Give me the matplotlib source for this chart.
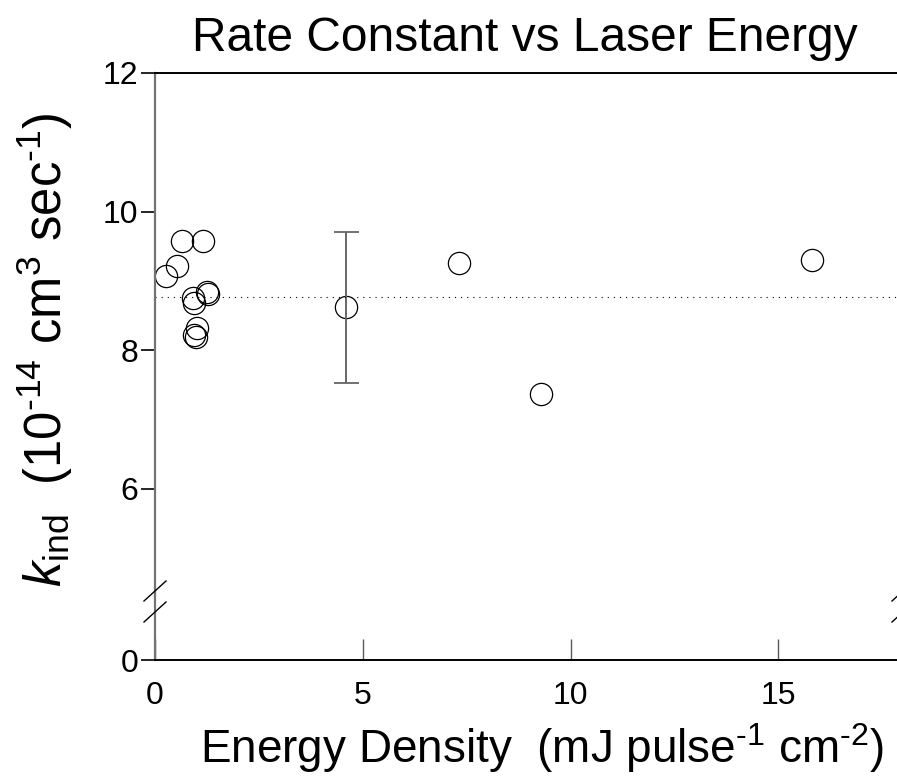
import numpy as np
import matplotlib
matplotlib.use('Agg')
import matplotlib.pyplot as plt
from matplotlib.lines import Line2D

plt.rcParams['font.family'] = ['Liberation Sans', 'DejaVu Sans']
plt.rcParams['mathtext.fontset'] = 'custom'
plt.rcParams['mathtext.rm'] = 'Liberation Sans'
plt.rcParams['mathtext.it'] = 'Liberation Sans:italic'

# data
energy = [0.27, 0.52, 0.64, 1.16, 0.92, 0.94, 1.24, 1.27, 1.02, 0.95, 0.98,
          4.60, 7.31, 9.30, 15.81]
k_ind = [9.07, 9.22, 9.57, 9.58, 8.75, 8.68, 8.84, 8.81, 8.32, 8.21, 8.19,
         8.62, 9.25, 7.37, 9.30]
err_x = [4.60]
err_y = [8.62]
err_lo = [1.10]
err_hi = [1.09]
mean_k = 8.77

xticks = [0, 5, 10, 15]
yticks_top = [6, 8, 10, 12]
yticks_bot = [0]

W, H = 897, 778
fig = plt.figure(figsize=(W / 100, H / 100), dpi=100)

left, right = 155 / W, 903 / W
y_top, y_split, y_bot = 73, 596, 660
ax = fig.add_axes([left, 1 - y_split / H, right - left, (y_split - y_top) / H])
axb = fig.add_axes([left, 1 - y_bot / H, right - left, (y_bot - y_split) / H], sharex=ax)

ax.set_xlim(0, 18)
ax.set_ylim(12 - (y_split - y_top) / 69.25, 12)
axb.set_ylim(0, 1)

# points
ax.plot(energy, k_ind, 'o', ms=16, mfc='none', mec='black', mew=0.9, clip_on=False)
eb = ax.errorbar(err_x, err_y, yerr=[err_lo, err_hi], fmt='none', ecolor='0.4',
                 elinewidth=1.4, capsize=9, capthick=1.3)
for cap in eb[1]:
    cap.set_color('black')
ax.axhline(mean_k, color='black', lw=0.8, linestyle=(0, (1, 4.5)))

# spines
for a in (ax, axb):
    a.spines['right'].set_visible(False)
    a.spines['left'].set_color('0.45')
    a.spines['left'].set_linewidth(1.6)
ax.spines['bottom'].set_visible(False)
axb.spines['top'].set_visible(False)
ax.spines['top'].set_linewidth(1.4)
axb.spines['bottom'].set_linewidth(1.4)

ax.set_yticks(yticks_top)
axb.set_yticks(yticks_bot)
axb.set_xticks(xticks)
ax.tick_params(axis='x', bottom=False, labelbottom=False)
for a in (ax, axb):
    a.tick_params(axis='y', direction='out', length=10, width=1.2, pad=2,
                  labelsize=23, color='black')
axb.tick_params(axis='x', direction='in', length=15, width=1.0, pad=15,
                labelsize=23, color='0.35')

# axis break marks
for yb in (591, 612):
    for xb in (155, 903):
        fig.add_artist(Line2D([(xb - 11) / W, (xb + 11) / W],
                              [1 - (yb + 10) / H, 1 - (yb - 10) / H],
                              color='black', lw=1.0))

hy = '\u2010'
fig.suptitle('Rate Constant vs Laser Energy', x=525 / W, y=1 - 16 / H,
             va='top', fontsize=34.5)
fig.text(542 / W, 1 - 748 / H,
         r'Energy Density  (mJ pulse$^{\mathregular{' + hy + r'1}}$ cm$^{\mathregular{' + hy + r'2}}$)',
         ha='center', va='center', fontsize=33)
fig.text(45 / W, 1 - 350 / H,
         r'$\mathit{k}_{\mathregular{ind}}$  (10$^{\mathregular{' + hy + r'14}}$ cm$^{\mathregular{3}}$ sec$^{\mathregular{' + hy + r'1}}$)',
         ha='center', va='center', rotation=90, fontsize=36.5)

fig.savefig('out.png', dpi=100)
